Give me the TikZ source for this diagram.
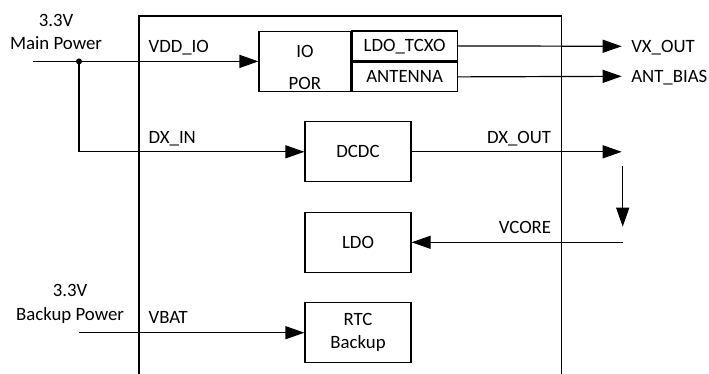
\documentclass[tikz,border=0pt]{standalone}
\usepackage{fontspec}
\setmainfont{Carlito}
\usetikzlibrary{arrows.meta}
\begin{document}
\begin{tikzpicture}[x=1pt,y=-1pt,line width=1.2pt,
    txt/.style={inner sep=0pt,font=\fontsize{18.8}{23.3}\selectfont},
    blk/.style={draw,txt,minimum width=106pt,minimum height=60pt,text height=12pt,text depth=0pt},
    sub/.style={draw,txt,minimum width=105.3pt,minimum height=29.8pt,text height=12pt,text depth=0pt},
    sig/.style={-{Triangle[length=19pt,width=13pt]}}]

      \useasboundingbox (0,0) rectangle (709,374);

      % chip outline, open at the bottom
      \draw (139,374) -- (139,16) -- (561.7,16) -- (561.7,374);

      \node[draw,txt,minimum width=91.7pt,minimum height=59.5pt,
            label={[txt,align=center,font=\fontsize{18.8}{32.3}\selectfont,anchor=base,yshift=-5.9pt]center:IO\\POR}] (io) at (304.9,61.4) {};
      \node[sub,anchor=south west] (tcxo) at (io.east) {LDO\_TCXO};
      \node[sub,anchor=north west] (ant) at (io.east) {ANTENNA};

      \node[blk] (dcdc) at (358,151.8) {DCDC};
      \node[blk] (ldo) at (358,242.3) {LDO};
      \node[blk,align=center,text height=,text depth=] (rtc) at (358,332.7) {RTC\\Backup};

      \coordinate (mpin) at (33,61.4);
      \coordinate (jn) at (79,61.4);
      \coordinate (bkin) at (79,332.7);
      \coordinate (dxtip) at (621.7,151.8);
      \coordinate (dn1) at (622.7,166);
      \coordinate (dn2) at (622.7,226.7);
      \coordinate (vcin) at (622.7,242.3);

      \node[txt,anchor=west,text height=12pt,text depth=0pt] (vxout) at (630.7,46.3) {VX\_OUT};
      \node[txt,anchor=west,text height=12pt,text depth=0pt] (antbias) at (630.7,76.3) {ANT\_BIAS};

      % supplies
      \node[txt,align=center,anchor=base] (mainpwr) at (56,50) {3.3V\\Main Power};
      \node[txt,align=center,anchor=base] (bkpwr) at (70,320) {3.3V\\Backup Power};

      \draw[sig] (mpin) -- (io.west);
      \draw[sig] (jn) |- (dcdc.west);
      \fill (jn) circle (3pt);
      \draw[sig] (bkin) -- (rtc.west);

      \draw[sig] (tcxo.east) -- (vxout.west -| dxtip);
      \draw[sig] (ant.east) -- (antbias.west -| dxtip);
      \draw[sig] (dcdc.east) -- (dxtip);
      \draw[sig] (dn1) -- (dn2);
      \draw[sig] (vcin) -- (ldo.east);

      % signal names
      \node[txt,anchor=base west] (vddio) at (148,52.7) {VDD\_IO};
      \node[txt,anchor=base west] (dxin) at (148,143.3) {DX\_IN};
      \node[txt,anchor=base west] (vbat) at (148,323.8) {VBAT};
      \node[txt,anchor=base east] (dxout) at (551.7,143.3) {DX\_OUT};
      \node[txt,anchor=base east] (vcore) at (551.7,233.3) {VCORE};
    \end{tikzpicture}
\end{document}
